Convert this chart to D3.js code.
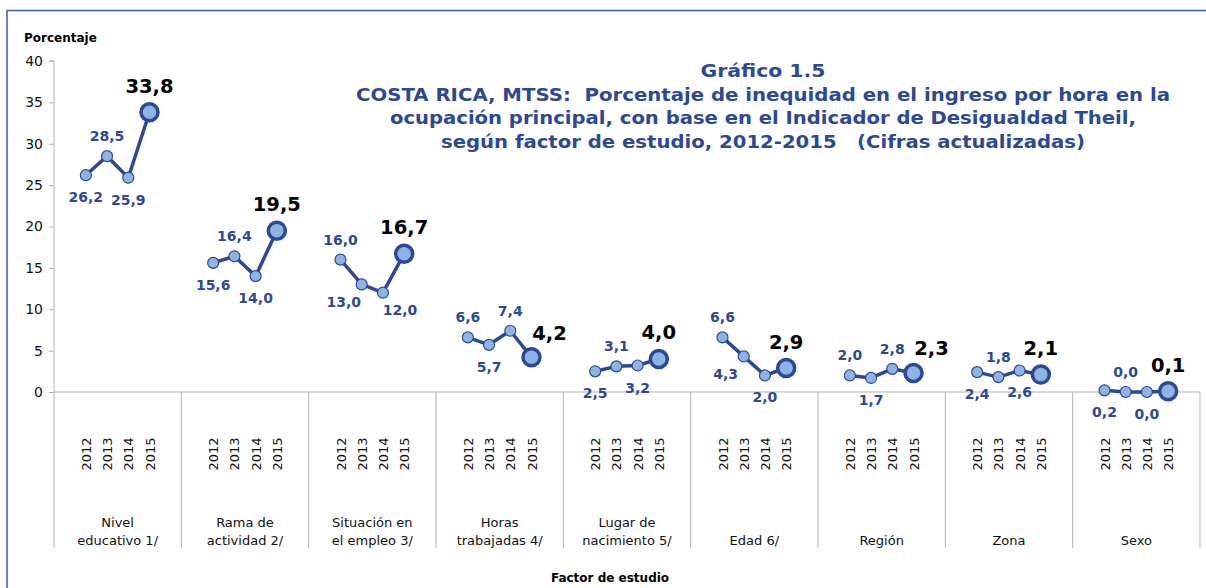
<!DOCTYPE html>
<html>
<head>
<meta charset="utf-8">
<script src="https://cdn.jsdelivr.net/npm/d3@7"></script>
<style>
  html, body { margin: 0; padding: 0; background: #fff; }
  svg { display: block; font-family: "DejaVu Sans", Verdana, sans-serif; }
</style>
</head>
<body>
<svg id="chart" width="1206" height="588"></svg>
<script>
// ---------- DATA ----------
const groups = [
  ["Nivel", "educativo 1/"],
  ["Rama de", "actividad 2/"],
  ["Situación en", "el empleo 3/"],
  ["Horas", "trabajadas 4/"],
  ["Lugar de", "nacimiento 5/"],
  ["Edad 6/"],
  ["Región"],
  ["Zona"],
  ["Sexo"]
];
const years = ["2012", "2013", "2014", "2015"];
const values = [
  [26.2, 28.5, 25.9, 33.8],
  [15.6, 16.4, 14.0, 19.5],
  [16.0, 13.0, 12.0, 16.7],
  [6.6, 5.7, 7.4, 4.2],
  [2.5, 3.1, 3.2, 4.0],
  [6.6, 4.3, 2.0, 2.9],
  [2.0, 1.7, 2.8, 2.3],
  [2.4, 1.8, 2.6, 2.1],
  [0.2, 0.0, 0.0, 0.1]
];
const yTicks = [0, 5, 10, 15, 20, 25, 30, 35, 40];
// label placement per point (a = above, b = below, bl/br = below left/right, A/R = highlight above / above-right)
const labelPlace = [
  ["b", "a", "b", "A"],
  ["b", "a", "b", "A"],
  ["a", "bl", "br", "A"],
  ["a", "b", "a", "R"],
  ["b", "a", "b", "A"],
  ["a", "bl", "b", "A"],
  ["a", "b", "a", "R"],
  ["b", "a", "b", "A"],
  ["b", "a", "b", "A"]
];
const titleLines = [
  "Gráfico 1.5",
  "COSTA RICA, MTSS:  Porcentaje de inequidad en el ingreso por hora en la",
  "ocupación principal, con base en el Indicador de Desigualdad Theil,",
  "según factor de estudio, 2012-2015   (Cifras actualizadas)"
];

// ---------- LAYOUT ----------
const svg = d3.select("#chart");
const pLeft = 54, pRight = 1200, pTop = 61, pBase = 392;
const dark = "#2c4896", light = "#8db4e2", grid = "#b3b3b3";

const x = d3.scaleBand().domain(d3.range(groups.length)).range([pLeft, pRight]).paddingInner(0).paddingOuter(0);
const xi = d3.scalePoint().domain(years).range([0, x.bandwidth()]).padding(1.5);
const y = d3.scaleLinear().domain([0, 40]).range([pBase, pTop]);

// outer border
svg.append("path").attr("d", `M7,588 V10.5 H1206`).attr("fill", "none")
  .attr("stroke", "#3a5ab8").attr("stroke-width", 1.5);

// y axis
const yAxis = d3.axisLeft(y).tickValues(yTicks).tickSize(5).tickPadding(6).tickFormat(d3.format("d"));
const ya = svg.append("g").attr("transform", `translate(${pLeft},0)`).call(yAxis);
ya.select(".domain").attr("stroke", grid).attr("d", `M-5,${pTop}H0V${pBase}`);
ya.selectAll(".tick line").attr("stroke", grid);
ya.selectAll(".tick text").attr("font-size", 14).attr("fill", "#111")
  .attr("font-family", "DejaVu Sans, sans-serif");

// x baseline
svg.append("line").attr("x1", pLeft).attr("x2", pRight).attr("y1", pBase).attr("y2", pBase)
  .attr("stroke", grid).attr("stroke-width", 1);

// group separators
const seps = d3.range(groups.length + 1).map(i => i < groups.length ? x(i) : x(groups.length - 1) + x.bandwidth());
svg.selectAll("line.sep").data(seps).join("line").attr("class", "sep")
  .attr("x1", d => d).attr("x2", d => d).attr("y1", pBase).attr("y2", 548)
  .attr("stroke", grid).attr("stroke-width", 1);

// year labels
groups.forEach((g, gi) => {
  years.forEach(yr => {
    const cx = x(gi) + xi(yr);
    svg.append("text").attr("transform", `translate(${cx + 5},${454}) rotate(-90)`)
      .attr("text-anchor", "middle").attr("font-size", 13).attr("fill", "#111").text(yr);
  });
  const cx = x(gi) + x.bandwidth() / 2;
  const lines = g;
  lines.forEach((ln, li) => {
    const yy = lines.length === 2 ? 527 + li * 18 : 545;
    svg.append("text").attr("x", cx).attr("y", yy).attr("text-anchor", "middle")
      .attr("font-size", 13).attr("fill", "#111").text(ln);
  });
});

// lines and points
const line = d3.line().x(d => d.x).y(d => d.y);
values.forEach((vals, gi) => {
  const pts = vals.map((v, i) => ({ x: x(gi) + xi(years[i]), y: y(v), v, i, place: labelPlace[gi][i] }));
  svg.append("path").attr("d", line(pts)).attr("fill", "none").attr("stroke", dark)
    .attr("stroke-width", 3.5).attr("stroke-linejoin", "round");
  pts.forEach(p => {
    const big = p.i === 3;
    svg.append("circle").attr("cx", p.x).attr("cy", p.y).attr("r", big ? 8.5 : 5.5)
      .attr("fill", light).attr("stroke", dark).attr("stroke-width", big ? 3.5 : 1.2);
    const off = { a: [0, -20], b: [0, 22], bl: [-18, 18], br: [17, 17], A: [0, -26], R: [18, -24] }[p.place];
    svg.append("text").attr("x", p.x + off[0]).attr("y", p.y + off[1])
      .attr("text-anchor", "middle").attr("dominant-baseline", "central")
      .attr("font-weight", "bold").attr("font-size", big ? 19.5 : 14)
      .attr("fill", big ? "#000" : dark)
      .text(d3.format(".1f")(p.v).replace(".", ","));
  });
});

// title
const tw = [125, 814, 746, 644];
titleLines.forEach((t, i) => {
  svg.append("text").attr("x", 763).attr("y", 77 + i * 23.5)
    .attr("text-anchor", "middle").attr("font-weight", "bold").attr("font-size", 18.5)
    .attr("fill", "#2c4896").style("white-space", "pre")
    .attr("textLength", tw[i]).attr("lengthAdjust", "spacingAndGlyphs").text(t);
});

// axis titles
svg.append("text").attr("x", 24).attr("y", 42).attr("font-weight", "bold").attr("font-size", 12)
  .attr("fill", "#000").text("Porcentaje");
svg.append("text").attr("x", 610).attr("y", 582).attr("text-anchor", "middle")
  .attr("font-weight", "bold").attr("font-size", 12).attr("fill", "#000").text("Factor de estudio");
</script>
</body>
</html>
